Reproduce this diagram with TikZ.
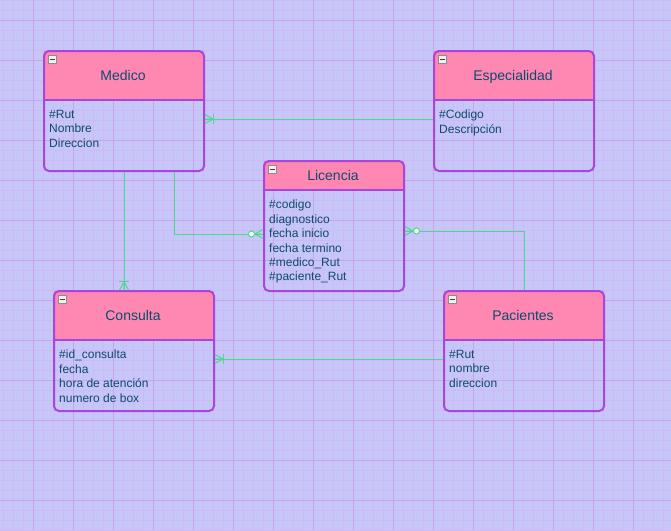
\documentclass[tikz,border=0pt]{standalone}
\usepackage{fontspec}
\setmainfont{Liberation Sans}
\usetikzlibrary{arrows.meta,positioning,calc}
\definecolor{fondo}{HTML}{C7C6F9}
\definecolor{rejilla}{HTML}{CDB9F3}
\definecolor{rejillamayor}{HTML}{C9A3EE}
\definecolor{cabecera}{HTML}{FF88B2}
\definecolor{borde}{HTML}{AA44DD}
\definecolor{verde}{HTML}{4CD98F}
\definecolor{texto}{HTML}{0E4A6E}
% pata de gallo (crow's foot)
\pgfdeclarearrow{
  name = Pata,
  parameters = {\the\pgfarrowlength,\the\pgfarrowwidth},
  setup code = {
    \pgfarrowssettipend{0pt}
    \pgfarrowssetlineend{0pt}
    \pgfarrowssetbackend{-\pgfarrowlength}
    \pgfarrowshullpoint{0pt}{.5\pgfarrowwidth}
    \pgfarrowshullpoint{0pt}{-.5\pgfarrowwidth}
    \pgfarrowshullpoint{-\pgfarrowlength}{0pt}
    \pgfarrowssavethe\pgfarrowlength
    \pgfarrowssavethe\pgfarrowwidth
  },
  drawing code = {
    \pgfsetdash{}{0pt}
    \pgfpathmoveto{\pgfqpoint{0pt}{.5\pgfarrowwidth}}
    \pgfpathlineto{\pgfqpoint{-\pgfarrowlength}{0pt}}
    \pgfpathlineto{\pgfqpoint{0pt}{-.5\pgfarrowwidth}}
    \pgfpathmoveto{\pgfqpoint{0pt}{0pt}}
    \pgfpathlineto{\pgfqpoint{-\pgfarrowlength}{0pt}}
    \pgfusepathqstroke
  },
  defaults = {length = 8pt, width = 9pt}
}
\tikzset{
  caja/.style={draw=borde, line width=2pt, rounded corners=5pt, inner sep=0pt, anchor=north west},
  separador/.style={draw=borde, line width=2pt},
  titulo/.style={text=texto, font=\fontsize{14}{17}\selectfont, inner sep=0pt, anchor=base},
  atributos/.style={text=texto, font=\fontsize{12}{14.4}\selectfont, align=left, inner sep=0pt, anchor=north west},
  icono/.style={draw=gray!90, fill=gray!12, line width=0.7pt, minimum size=8.5pt, inner sep=0pt,
    path picture={\draw[black!75, line width=1pt] ([xshift=2pt]path picture bounding box.west) -- ([xshift=-2pt]path picture bounding box.east);}},
  menor/.style={draw=rejilla, line width=0.5pt},
  mayor/.style={draw=rejillamayor, line width=1pt},
  rel/.style={draw=verde, line width=1pt},
  unomuchos/.style={rel, -{Bar[width=10pt,sep=0pt] Pata}},
  ceromuchos/.style={rel, -{Circle[fill=white,length=7pt,sep=0pt] Pata}}
}
% #1 nombre, #2 x, #3 y, #4 ancho, #5 alto, #6 alto cabecera, #7 titulo
\newcommand{\entidad}[7]{
  \fill[cabecera] (#2,#3+#6) [rounded corners=5pt] -- (#2,#3) -- (#2+#4,#3) [sharp corners] -- (#2+#4,#3+#6) -- cycle;
  \node[caja, minimum width=#4pt, minimum height=#5pt] (#1) at (#2,#3) {};
  \draw[separador] (#2,#3+#6) -- (#2+#4,#3+#6);
  \node[titulo] (#1-titulo) at (#2+#4/2,#3+#6/2+5) {#7};
  \node[icono] (#1-icono) at (#2+9.5,#3+9.5) {};
}

\begin{document}
\begin{tikzpicture}[x=1pt, y=-1pt]
  \useasboundingbox (0,0) rectangle (671,530);
  % fondo cuadriculado
  \fill[fondo] (0,0) rectangle (671,530);
  \foreach \x in {3,13,...,671} \draw[menor] (\x,0) -- (\x,530);
  \foreach \y in {0,10,...,530} \draw[menor] (0,\y) -- (671,\y);
  \foreach \x in {33,73,...,671} \draw[mayor] (\x,0) -- (\x,530);
  \foreach \y in {20,60,...,530} \draw[mayor] (0,\y) -- (671,\y);

  % entidades
  \entidad{medico}{43}{50}{160}{120}{50}{Medico}
  \entidad{especialidad}{433}{50}{160}{120}{50}{Especialidad}
  \entidad{licencia}{263}{160}{140}{130}{30}{Licencia}
  \entidad{consulta}{53}{290}{160}{120}{50}{Consulta}
  \entidad{pacientes}{443}{290}{160}{120}{50}{Pacientes}

  \node[atributos] (medico-attr) at (49,110) {\#Rut\\Nombre\\Direccion};
  \node[atributos] (especialidad-attr) at (439,110) {\#Codigo\\Descripción};
  \node[atributos] (licencia-attr) at (269,200) {\#codigo\\diagnostico\\fecha inicio\\fecha termino\\\#medico\_Rut\\\#paciente\_Rut};
  \node[atributos] (consulta-attr) at (59,350) {\#id\_consulta\\fecha\\hora de atención\\numero de box};
  \node[atributos] (pacientes-attr) at (449,350) {\#Rut\\nombre\\direccion};

  % relaciones
  \draw[unomuchos] ([yshift=-8pt]especialidad.west) -- ([yshift=-8pt]medico.east);
  \draw[unomuchos] (medico.south) -- (medico.south |- consulta.north);
  \draw[ceromuchos] ([xshift=50pt]medico.south) |- ([yshift=-8pt]licencia.west);
  \draw[ceromuchos] (pacientes.north) |- ([yshift=-5pt]licencia.east);
  \draw[unomuchos] ([yshift=-8pt]pacientes.west) -- ([yshift=-8pt]consulta.east);
\end{tikzpicture}
\end{document}
